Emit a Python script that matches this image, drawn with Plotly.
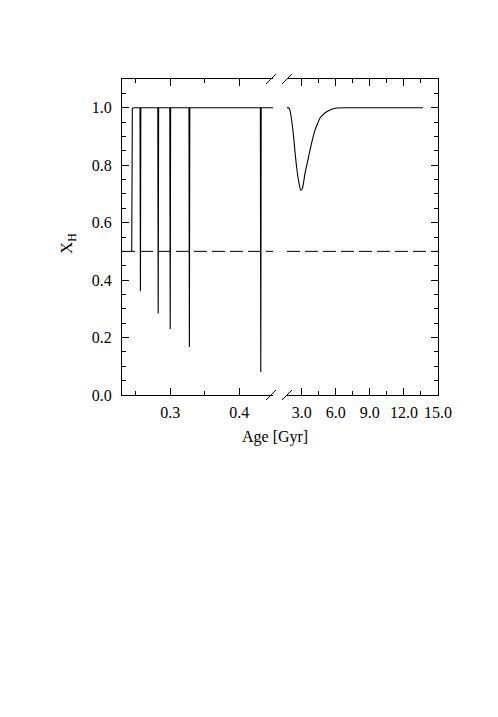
import plotly.graph_objects as go

# ---- data ----
early_age = [0.2441, 0.2444, 0.2450, 0.2462,
             0.2561, 0.2567, 0.2573,
             0.2819, 0.2825, 0.2831,
             0.2993, 0.2999, 0.3005,
             0.3271, 0.3277, 0.3283,
             0.4306, 0.4312, 0.4318,
             0.449]
early_xh = [0.50, 0.98, 0.998, 1.0,
            1.0, 0.361, 1.0,
            1.0, 0.284, 1.0,
            1.0, 0.230, 1.0,
            1.0, 0.167, 1.0,
            1.0, 0.080, 1.0,
            1.0]

late_age = [1.68, 1.85, 1.97, 2.10, 2.26, 2.40, 2.56, 2.75, 2.91, 3.05, 3.29,
            3.50, 3.73, 3.95, 4.17, 4.40, 4.61, 4.90, 5.20, 5.60, 6.08, 7.00, 13.69]
late_xh = [1.0, 1.0, 0.99, 0.96, 0.91, 0.85, 0.79, 0.74, 0.713, 0.718, 0.772,
           0.81, 0.852, 0.89, 0.922, 0.945, 0.964, 0.977, 0.986, 0.994, 0.999, 1.0, 1.0]

ref_level = 0.5

x1_ticks = [0.3, 0.4]
x1_labels = ["0.3", "0.4"]
x2_ticks = [3, 6, 9, 12, 15]
x2_labels = ["3.0", "6.0", "9.0", "12.0", "15.0"]
y_ticks = [0.0, 0.2, 0.4, 0.6, 0.8, 1.0]
y_labels = ["0.0", "0.2", "0.4", "0.6", "0.8", "1.0"]

FONT = "Liberation Serif"
W, H = 490, 709
L, R, T, B = 114, 60, 71, 322
split_l, split_r = 0.478, 0.522

fig = go.Figure()
fig.add_trace(go.Scatter(x=early_age, y=early_xh, mode="lines",
                         line=dict(color="black", width=1.1),
                         xaxis="x", yaxis="y", showlegend=False))
fig.add_trace(go.Scatter(x=late_age, y=late_xh, mode="lines",
                         line=dict(color="black", width=1.1, shape="spline", smoothing=0.6),
                         xaxis="x2", yaxis="y2", showlegend=False))

# reference dashed line in both panels
for xr, yr in (("x domain", "y"), ("x2 domain", "y2")):
    fig.add_shape(type="line", xref=xr, yref=yr, x0=0, x1=1, y0=ref_level, y1=ref_level,
                  line=dict(color="black", width=1, dash="13px,5px"))

# axis-break marks
for anchor, off in ((split_l, -2), (split_r, 0)):
    for ya in (0, 1):
        fig.add_shape(type="line", xref="paper", yref="paper",
                      xsizemode="pixel", ysizemode="pixel",
                      xanchor=anchor, yanchor=ya,
                      x0=off - 5, x1=off + 5, y0=-5, y1=5,
                      line=dict(color="black", width=1))

axis_common = dict(showline=True, linecolor="black", linewidth=1, showgrid=False,
                   zeroline=False, ticks="inside", ticklen=7, tickwidth=1,
                   tickcolor="black", tickfont=dict(family=FONT, size=16, color="black"))

fig.update_layout(
    width=W, height=H, margin=dict(l=L, r=R, t=T, b=B),
    paper_bgcolor="white", plot_bgcolor="white",
    xaxis=dict(domain=[0, split_l], range=[0.23, 0.449], anchor="y", mirror="ticks",
               tickmode="array", tickvals=x1_ticks, ticktext=x1_labels,
               minor=dict(ticks="inside", ticklen=4, tickcolor="black", dtick=0.05, tick0=0.25),
               ticklabelstandoff=3, **axis_common),
    xaxis2=dict(domain=[split_r, 1], range=[1.7, 15], anchor="y2", mirror="ticks",
                tickmode="array", tickvals=x2_ticks, ticktext=x2_labels,
                minor=dict(ticks="inside", ticklen=4, tickcolor="black", dtick=1.5, tick0=0),
                ticklabelstandoff=3, **axis_common),
    yaxis=dict(range=[0, 1.1], anchor="x", side="left", mirror=False,
               tickmode="array", tickvals=y_ticks, ticktext=y_labels,
               minor=dict(ticks="inside", ticklen=4, tickcolor="black", dtick=0.05, tick0=0),
               ticklabelstandoff=6, **axis_common),
    yaxis2=dict(range=[0, 1.1], anchor="x2", side="right", mirror=False,
                showticklabels=False, tickmode="array", tickvals=y_ticks,
                minor=dict(ticks="inside", ticklen=4, tickcolor="black", dtick=0.05, tick0=0),
                **axis_common),
    annotations=[
        dict(text="Age [Gyr]", xref="paper", yref="paper", x=0.484, y=-0.133,
             showarrow=False, font=dict(family=FONT, size=16, color="black"),
             xanchor="center", yanchor="middle"),
        dict(text="X<sub>H</sub>", xref="paper", yref="paper", x=-0.171, y=0.481,
             showarrow=False, textangle=-90, font=dict(family=FONT, size=17, color="black"),
             xanchor="center", yanchor="middle"),
    ],
)

fig.write_html("out.html")
